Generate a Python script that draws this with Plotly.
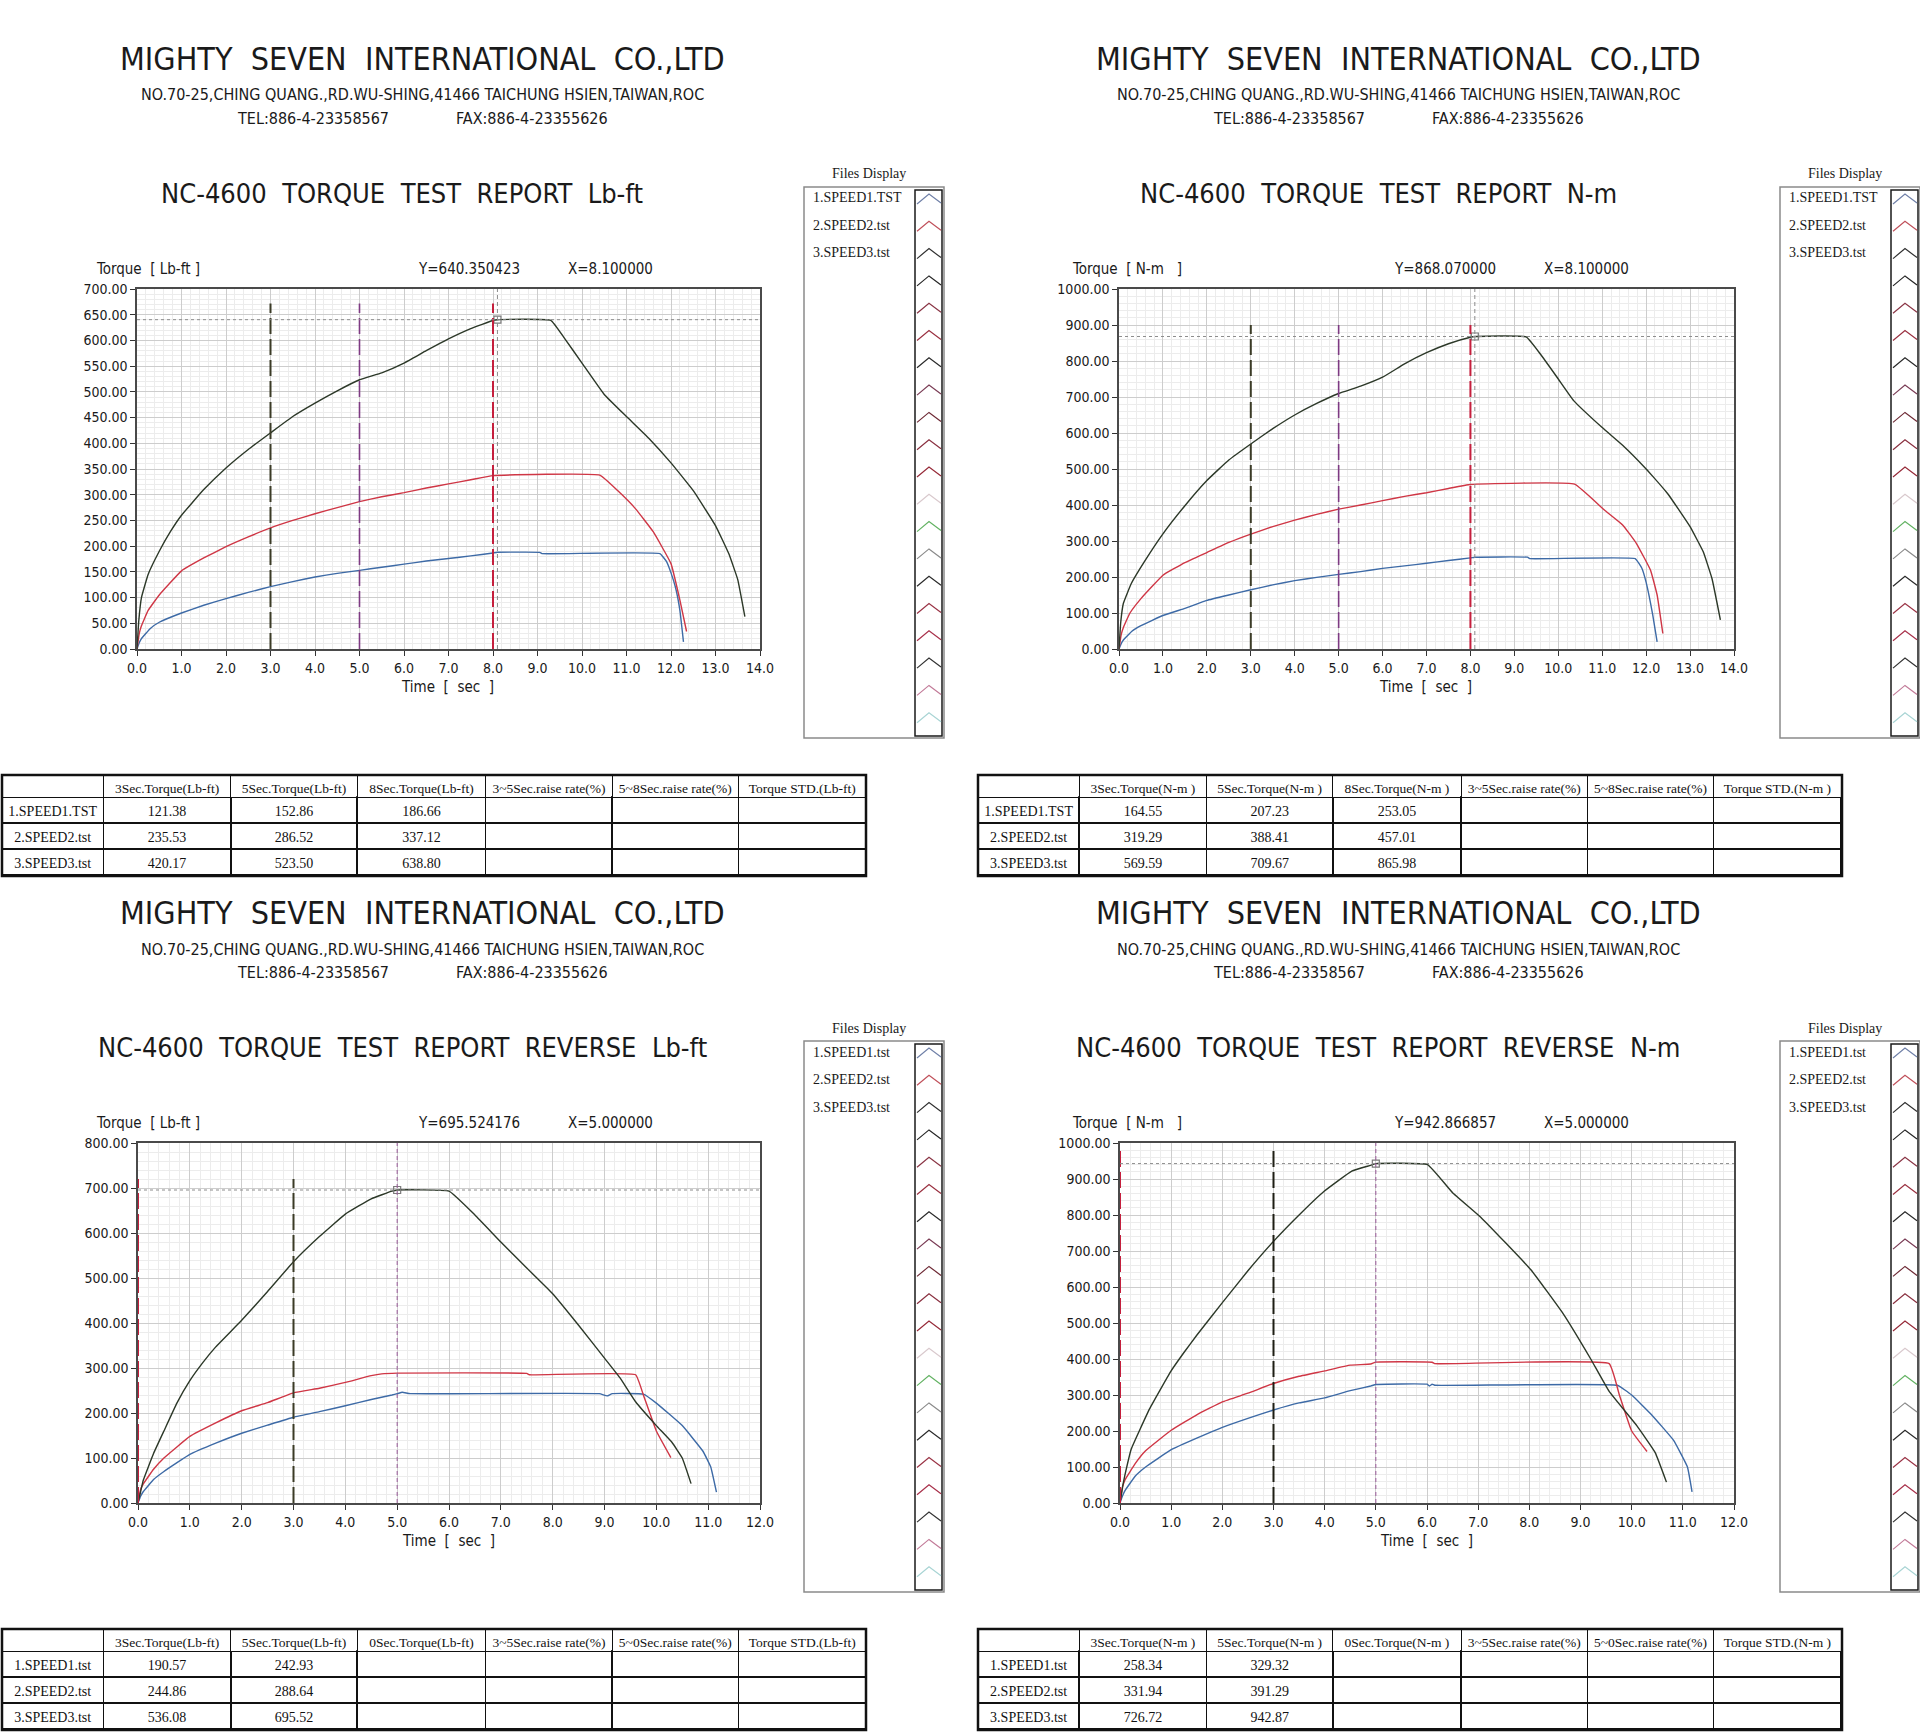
import plotly.graph_objects as go

W, H = 1920, 1734

# ---------------- forward test, Lb-ft ----------------
fwd_lb_t1 = [0, 0.05, 0.1, 0.3, 0.5, 1.0, 1.5, 2.0, 2.5, 3.0, 3.5, 4.0, 4.5, 5.0, 5.5, 6.0, 6.5, 7.0, 7.5, 8.0, 8.1,
             9.05, 9.1, 11.75, 11.9, 12.0, 12.1, 12.2, 12.28]
fwd_lb_y1 = [0, 12, 20, 40, 52, 70, 85, 98, 110, 121.38, 131, 140, 147, 152.86, 159, 165, 171, 176, 181, 186.66, 188,
             188, 185.5, 185.5, 170, 148, 120, 75, 14]
fwd_lb_t2 = [0, 0.05, 0.1, 0.25, 0.5, 1.0, 1.5, 2.0, 2.5, 3.0, 3.5, 4.0, 4.5, 5.0, 5.5, 6.0, 6.5, 7.0, 7.5, 8.0,
             10.4, 10.8, 11.2, 11.6, 12.0, 12.2, 12.35]
fwd_lb_y2 = [0, 30, 45, 75, 105, 152, 177, 199, 218, 235.53, 250, 263, 275, 286.52, 296, 304, 313, 321, 329, 337.12,
             338, 308, 273, 228, 166, 95, 34]
fwd_lb_t3 = [0, 0.04, 0.1, 0.25, 0.5, 0.75, 1.0, 1.5, 2.0, 2.5, 3.0, 3.5, 4.0, 4.5, 5.0, 5.5, 6.0, 6.5, 7.0, 7.5,
             8.0, 8.1, 9.3, 9.6, 10.0, 10.5, 11.0, 11.5, 12.0, 12.5, 13.0, 13.3, 13.5, 13.66]
fwd_lb_y3 = [0, 55, 100, 145, 190, 228, 260, 310, 352, 388, 420.17, 452, 478, 502, 523.5, 537, 556, 580, 603, 623,
             638.8, 640.35, 639, 605, 556, 495, 452, 410, 362, 308, 240, 185, 135, 63]

# ---------------- forward test, N-m ----------------
fwd_nm_t1 = [0, 0.05, 0.1, 0.3, 0.5, 1.0, 1.5, 2.0, 2.5, 3.0, 3.5, 4.0, 4.5, 5.0, 5.5, 6.0, 6.5, 7.0, 7.5, 8.0, 8.1,
             9.3, 9.35, 11.75, 11.9, 12.0, 12.15, 12.25]
fwd_nm_y1 = [0, 15, 25, 50, 65, 93, 113, 135, 150, 164.55, 178, 190, 199, 207.23, 215, 224, 231, 238, 246, 253.05, 255,
             255, 251, 251, 225, 185, 95, 20]
fwd_nm_t2 = [0, 0.05, 0.1, 0.25, 0.5, 1.0, 1.5, 2.0, 2.5, 3.0, 3.5, 4.0, 4.5, 5.0, 5.5, 6.0, 6.5, 7.0, 7.5, 8.0,
             10.37, 11.05, 11.47, 11.78, 12.1, 12.25, 12.38]
fwd_nm_y2 = [0, 40, 60, 100, 140, 205, 240, 268, 296, 319.29, 340, 358, 374, 388.41, 400, 412, 424, 434, 446, 457.01,
             458, 386, 344, 293, 219, 150, 43]
fwd_nm_t3 = [0, 0.04, 0.1, 0.28, 0.6, 1.0, 1.5, 2.0, 2.5, 3.0, 3.5, 4.0, 4.5, 5.0, 5.5, 6.0, 6.5, 7.0, 7.5, 8.0,
             8.1, 9.27, 9.6, 10.0, 10.35, 11.0, 11.5, 12.0, 12.5, 13.0, 13.3, 13.5, 13.69]
fwd_nm_y3 = [0, 75, 127, 182, 247, 320, 398, 468, 525, 569.59, 612, 650, 682, 709.67, 730, 755, 792, 823, 848, 865.98,
             868.07, 867, 818, 750, 690, 615, 562, 500, 430, 340, 270, 195, 81]

# ---------------- reverse test, Lb-ft ----------------
rev_lb_t1 = [0, 0.05, 0.1, 0.3, 0.5, 1.0, 1.5, 2.0, 2.5, 3.0, 3.5, 4.0, 4.5, 4.9, 5.0, 5.1, 5.25, 8.9, 9.05, 9.15,
             9.75, 10.0, 10.5, 10.9, 11.05, 11.16]
rev_lb_y1 = [0, 15, 25, 52, 70, 108, 133, 155, 173, 190.57, 203, 216, 230, 240, 242.93, 246, 243, 243, 238, 243,
             242, 222, 172, 115, 80, 24]
rev_lb_t2 = [0, 0.05, 0.1, 0.3, 0.5, 1.0, 1.5, 2.0, 2.5, 3.0, 3.5, 4.0, 4.5, 4.7, 5.0, 7.5, 7.55, 9.6, 9.75, 10.0,
             10.28]
rev_lb_y2 = [0, 30, 42, 75, 100, 148, 178, 205, 223, 244.86, 255, 268, 283, 287, 288.64, 288, 285, 285, 240, 160,
             101]
rev_lb_t3 = [0, 0.05, 0.1, 0.3, 0.5, 0.75, 1.0, 1.25, 1.5, 2.0, 2.5, 3.0, 3.5, 4.0, 4.5, 4.9, 5.0, 6.0, 6.5, 7.0,
             7.5, 8.0, 8.5, 9.0, 9.3, 9.6, 10.0, 10.3, 10.5, 10.67]
rev_lb_y3 = [0, 25, 50, 110, 160, 222, 272, 312, 347, 406, 470, 536.08, 592, 642, 676, 693, 695.52, 693, 640, 580,
             522, 465, 395, 322, 278, 225, 172, 135, 100, 43]

# ---------------- reverse test, N-m ----------------
rev_nm_t1 = [0, 0.05, 0.1, 0.3, 0.5, 1.0, 1.5, 2.0, 2.5, 3.0, 3.5, 4.0, 4.5, 4.9, 5.0, 6.0, 6.05, 6.1, 6.15, 9.72,
             10.0, 10.37, 10.82, 11.09, 11.18]
rev_nm_y1 = [0, 20, 35, 75, 100, 148, 180, 210, 235, 258.34, 278, 292, 312, 325, 329.32, 330, 325, 330, 327, 327,
             300, 248, 174, 100, 31]
rev_nm_t2 = [0, 0.05, 0.1, 0.3, 0.5, 1.0, 1.5, 2.0, 2.5, 3.0, 3.5, 4.0, 4.5, 4.9, 5.0, 6.1, 6.15, 9.56, 9.76, 10.0,
             10.3]
rev_nm_y2 = [0, 45, 65, 110, 145, 202, 245, 281, 305, 331.94, 352, 367, 383, 386, 391.29, 391, 387, 387, 300, 200,
             143]
rev_nm_t3 = [0, 0.05, 0.1, 0.22, 0.58, 0.99, 1.25, 1.5, 2.02, 2.5, 3.0, 3.5, 3.99, 4.53, 4.9, 5.0, 6.01, 6.5, 7.05,
             8.03, 8.66, 9.2, 9.56, 10.1, 10.46, 10.68]
rev_nm_y3 = [0, 45, 80, 150, 262, 365, 418, 466, 560, 645, 726.72, 800, 866, 922, 938, 942.87, 940, 862, 794,
             648, 526, 400, 310, 215, 140, 58]

# ---------------- tables ----------------
names_fwd = ["1.SPEED1.TST", "2.SPEED2.tst", "3.SPEED3.tst"]
names_rev = ["1.SPEED1.tst", "2.SPEED2.tst", "3.SPEED3.tst"]

hdr_fwd_lb = ["", "3Sec.Torque(Lb-ft)", "5Sec.Torque(Lb-ft)", "8Sec.Torque(Lb-ft)", "3~5Sec.raise rate(%)",
              "5~8Sec.raise rate(%)", "Torque STD.(Lb-ft)"]
hdr_fwd_nm = ["", "3Sec.Torque(N-m )", "5Sec.Torque(N-m )", "8Sec.Torque(N-m )", "3~5Sec.raise rate(%)",
              "5~8Sec.raise rate(%)", "Torque STD.(N-m )"]
hdr_rev_lb = ["", "3Sec.Torque(Lb-ft)", "5Sec.Torque(Lb-ft)", "0Sec.Torque(Lb-ft)", "3~5Sec.raise rate(%)",
              "5~0Sec.raise rate(%)", "Torque STD.(Lb-ft)"]
hdr_rev_nm = ["", "3Sec.Torque(N-m )", "5Sec.Torque(N-m )", "0Sec.Torque(N-m )", "3~5Sec.raise rate(%)",
              "5~0Sec.raise rate(%)", "Torque STD.(N-m )"]

tq3_fwd_lb = [121.38, 235.53, 420.17]
tq5_fwd_lb = [152.86, 286.52, 523.50]
tq8_fwd_lb = [186.66, 337.12, 638.80]
tq3_fwd_nm = [164.55, 319.29, 569.59]
tq5_fwd_nm = [207.23, 388.41, 709.67]
tq8_fwd_nm = [253.05, 457.01, 865.98]
tq3_rev_lb = [190.57, 244.86, 536.08]
tq5_rev_lb = [242.93, 288.64, 695.52]
tq3_rev_nm = [258.34, 331.94, 726.72]
tq5_rev_nm = [329.32, 391.29, 942.87]

# cursor readouts
cursor_x = [8.1, 8.1, 5.0, 5.0]
cursor_y = [640.350423, 868.07, 695.524176, 942.866857]

# marker (3s / 5s / 8s) line times
marks_fwd = [3.0, 5.0, 8.0]
marks_rev = [3.0, 0.0]

company = "MIGHTY  SEVEN  INTERNATIONAL  CO.,LTD"
address = "NO.70-25,CHING QUANG.,RD.WU-SHING,41466 TAICHUNG HSIEN,TAIWAN,ROC"
tel = "TEL:886-4-23358567"
fax = "FAX:886-4-23355626"

NARROW = "Liberation Sans Narrow, DejaVu Sans Condensed, Arial Narrow, sans-serif"
SERIF = "Liberation Serif, Times New Roman, serif"

C1, C2, C3 = "#3d6aa6", "#cf3645", "#2c3828"
M3, M5, M8 = "#3b3b26", "#7e3a83", "#c51f3d"

chev_colors = ["#7080a8", "#c0505a", "#303030", "#262626", "#8a3545", "#9a3040", "#2a2a2a", "#7a3c55",
               "#6e2a35", "#8a3040", "#962a38", "#d9c9cd", "#62b262", "#8a8a8a", "#2a2a2a", "#9a3345",
               "#a8304a", "#333333", "#c27a98", "#a8d4d4"]


def fx(px):
    return px / W


def fy(py):
    return 1 - py / H


panels = [
    dict(dx=0, dy=0, plot=(137, 760, 289, 649), title="NC-4600  TORQUE  TEST  REPORT  Lb-ft", unit="Lb-ft",
         xmax=14, ymax=700, ydt=50, ymn=10,
         series=[(fwd_lb_t1, fwd_lb_y1), (fwd_lb_t2, fwd_lb_y2), (fwd_lb_t3, fwd_lb_y3)],
         marks=marks_fwd, mcols=[M3, M5, M8], mtop=[672, 672, 672], cur_col="#8c8c8c",
         hdr=hdr_fwd_lb, names=names_fwd, cols=[tq3_fwd_lb, tq5_fwd_lb, tq8_fwd_lb]),
    dict(dx=976, dy=0, plot=(1119, 1734, 289, 649), title="NC-4600  TORQUE  TEST  REPORT  N-m", unit="N-m  ",
         xmax=14, ymax=1000, ydt=100, ymn=20,
         series=[(fwd_nm_t1, fwd_nm_y1), (fwd_nm_t2, fwd_nm_y2), (fwd_nm_t3, fwd_nm_y3)],
         marks=marks_fwd, mcols=[M3, M5, M8], mtop=[900, 900, 900], cur_col="#8c8c8c",
         hdr=hdr_fwd_nm, names=names_fwd, cols=[tq3_fwd_nm, tq5_fwd_nm, tq8_fwd_nm]),
    dict(dx=0, dy=854, plot=(138, 760, 1143, 1503), title="NC-4600  TORQUE  TEST  REPORT  REVERSE  Lb-ft",
         unit="Lb-ft", xmax=12, ymax=800, ydt=100, ymn=20,
         series=[(rev_lb_t1, rev_lb_y1), (rev_lb_t2, rev_lb_y2), (rev_lb_t3, rev_lb_y3)],
         marks=marks_rev, mcols=[M3, M8], mtop=[720, 720], cur_col="#9a5a9a",
         hdr=hdr_rev_lb, names=names_rev, cols=[tq3_rev_lb, tq5_rev_lb, None]),
    dict(dx=976, dy=854, plot=(1120, 1734, 1143, 1503), title="NC-4600  TORQUE  TEST  REPORT  REVERSE  N-m",
         unit="N-m  ", xmax=12, ymax=1000, ydt=100, ymn=20,
         series=[(rev_nm_t1, rev_nm_y1), (rev_nm_t2, rev_nm_y2), (rev_nm_t3, rev_nm_y3)],
         marks=marks_rev, mcols=["#1e1e14", M8], mtop=[980, 990], cur_col="#9a5a9a",
         hdr=hdr_rev_nm, names=names_rev, cols=[tq3_rev_nm, tq5_rev_nm, None]),
]

fig = go.Figure()
shapes = []
annots = []


def text(x, y, s, size, family=NARROW, anchor="center", color="#1a1a1a"):
    annots.append(dict(x=fx(x), y=fy(y), xref="paper", yref="paper", text=s, showarrow=False,
                       xanchor=anchor, yanchor="middle", font=dict(family=family, size=size, color=color)))


for i, p in enumerate(panels, start=1):
    sx = "" if i == 1 else str(i)
    xr, yr = "x" + sx, "y" + sx
    dx, dy = p["dx"], p["dy"]
    x0, x1, y0, y1 = p["plot"]

    grid = dict(showgrid=True, gridcolor="#cdcdcd", gridwidth=1, zeroline=False, showline=True, mirror=True,
                linecolor="#4a4a4a", linewidth=1.5, ticks="outside", ticklen=5, tickcolor="#333",
                automargin=False, tickfont=dict(family=NARROW, size=14, color="#1a1a1a"))
    fig.update_layout(**{
        "xaxis" + sx: dict(grid, domain=[fx(x0), fx(x1)], range=[0, p["xmax"]], dtick=1, tickformat=".1f",
                           minor=dict(dtick=0.2, showgrid=True, gridcolor="#ececec"), anchor=yr),
        "yaxis" + sx: dict(grid, domain=[fy(y1), fy(y0)], range=[0, p["ymax"]], dtick=p["ydt"], tickformat=".2f",
                           minor=dict(dtick=p["ymn"], showgrid=True, gridcolor="#ececec"), anchor=xr),
    })

    # 3s / 5s / 8s marker lines
    for t, col, top in zip(p["marks"], p["mcols"], p["mtop"]):
        shapes.append(dict(type="line", xref=xr, yref=yr, x0=t, x1=t, y0=0, y1=top,
                           line=dict(color=col, width=2 if col != M5 else 1.6, dash="16px,5px")))

    # cursor cross-hair
    cx, cy = cursor_x[i - 1], cursor_y[i - 1]
    shapes.append(dict(type="line", xref=xr, yref=yr, x0=0, x1=p["xmax"], y0=cy, y1=cy,
                       line=dict(color="#8c8c8c", width=1, dash="3px,3px")))
    shapes.append(dict(type="line", xref=xr, yref=yr, x0=cx, x1=cx, y0=0, y1=p["ymax"],
                       line=dict(color=p["cur_col"], width=1, dash="4px,3px")))

    for (t, y), col in zip(p["series"], [C1, C2, C3]):
        fig.add_trace(go.Scatter(x=t, y=y, mode="lines", line=dict(color=col, width=1.4, shape="spline",
                                                                    smoothing=0.3),
                                 xaxis=xr, yaxis=yr, hoverinfo="skip"))
    fig.add_trace(go.Scatter(x=[cx], y=[cy], mode="markers", xaxis=xr, yaxis=yr, hoverinfo="skip",
                             marker=dict(symbol="square-open", size=7, color="#7a7a7a", line=dict(width=1.2))))

    # header texts
    text(422 + dx, 59 + dy, company, 32)
    text(422 + dx, 95 + dy, address, 16)
    text(313 + dx, 118 + dy, tel, 16)
    text(532 + dx, 118 + dy, fax, 16)
    text(402 + dx, 193 + dy, p["title"], 27)
    text(94 + dx, 269 + dy, "Torque  [ " + p["unit"] + " ]", 15, anchor="left")
    text(469 + dx, 269 + dy, f"Y={cy:.6f}", 15)
    text(610 + dx, 269 + dy, f"X={cx:.6f}", 15)
    text((x0 + x1) / 2 - 1, 687 + dy, "Time  [  sec  ]", 15)

    # files display panel
    text(869 + dx, 174 + dy, "Files Display", 14, family=SERIF)
    shapes.append(dict(type="rect", xref="paper", yref="paper", x0=fx(804 + dx), x1=fx(944 + dx),
                       y0=fy(738 + dy), y1=fy(187 + dy), line=dict(color="#8a8a8a", width=1.5)))
    shapes.append(dict(type="rect", xref="paper", yref="paper", x0=fx(915 + dx), x1=fx(942 + dx),
                       y0=fy(736 + dy), y1=fy(190 + dy), line=dict(color="#1a1a1a", width=1.5)))
    for k, nm in enumerate(p["names"]):
        text(811 + dx, 198 + dy + k * 27.5, nm, 14, family=SERIF, anchor="left")
    for k, col in enumerate(chev_colors):
        yc = 199 + dy + k * 27.3
        path = (f"M {fx(917 + dx)},{fy(yc + 5)} L {fx(929 + dx)},{fy(yc - 5)} "
                f"L {fx(941 + dx)},{fy(yc + 4)}")
        shapes.append(dict(type="path", xref="paper", yref="paper", path=path,
                           line=dict(color=col, width=1.2)))

    # results table (non-breaking spaces keep each header on one line)
    hdr = [h.replace(" ", "\u00a0") for h in p["hdr"]]
    vals = [p["names"]] + [[f"{v:.2f}" for v in c] if c else ["", "", ""] for c in p["cols"]] + [["", "", ""]] * 3
    fig.add_trace(go.Table(
        domain=dict(x=[fx(2 + dx), fx(866 + dx)], y=[fy(878 + dy), fy(775 + dy)]),
        columnwidth=[101, 127, 126, 128, 126, 126, 127],
        header=dict(values=hdr, height=22, fill_color="white", line=dict(color="#111", width=1),
                    align="center", font=dict(family=SERIF, size=13.5, color="#111")),
        cells=dict(values=vals, height=26, fill_color="white", line=dict(color="#111", width=1.5),
                   align="center", font=dict(family=SERIF, size=14, color="#111")),
    ))
    shapes.append(dict(type="rect", xref="paper", yref="paper", x0=fx(2 + dx), x1=fx(866 + dx),
                       y0=fy(876 + dy), y1=fy(775 + dy), line=dict(color="#111", width=2.5)))

fig.update_layout(width=W, height=H, margin=dict(l=0, r=0, t=0, b=0, autoexpand=False), paper_bgcolor="white",
                  plot_bgcolor="white", showlegend=False, shapes=shapes, annotations=annots)

fig.write_html("out.html", config={"displayModeBar": False},
               post_script="document.body.style.margin='0';document.body.style.overflow='hidden';")
